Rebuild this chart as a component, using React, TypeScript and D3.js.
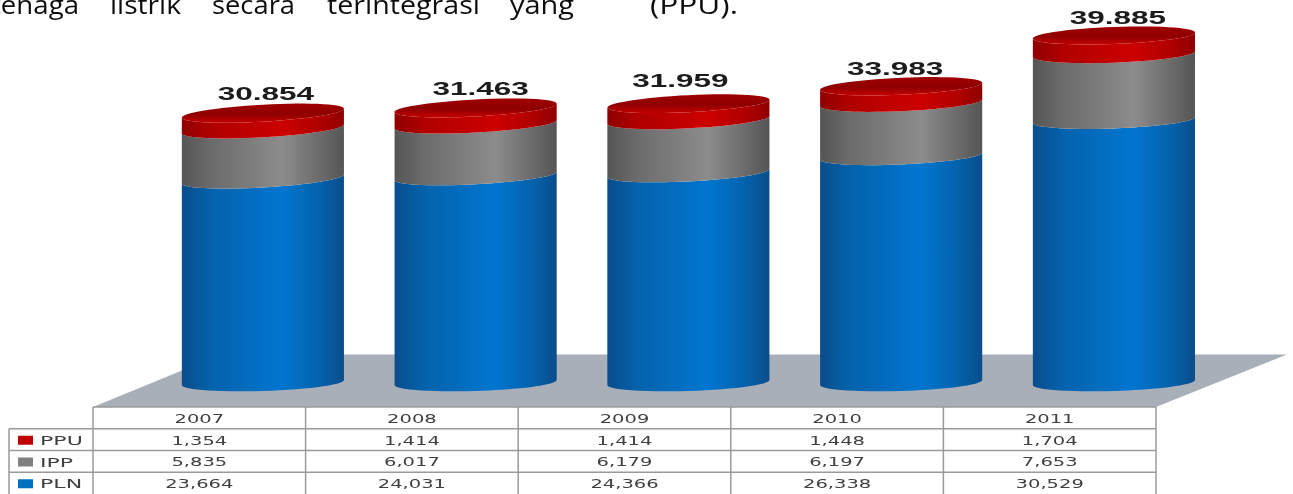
import { useEffect, useRef } from 'react';
import * as d3 from 'd3';

// Chart data
const years = ['2007', '2008', '2009', '2010', '2011'];
const ppu = [1354, 1414, 1414, 1448, 1704];
const ipp = [5835, 6017, 6179, 6197, 7653];
const pln = [23664, 24031, 24366, 26338, 30529];
const totals = ['30.854', '31.463', '31.959', '33.983', '39.885'];
const tableRows = ['PPU', 'IPP', 'PLN'];
const headingWords = ['tenaga', 'listrik', 'secara', 'terintegrasi', 'yang', '(PPU).'];

// Hand placed layout of the source picture
const headingSpans: [number, number][] = [[-9, 79], [110, 181], [212, 295], [327, 480], [510, 574], [650, 738]];
const labelNudge: [number, number][] = [[3, 6], [5, 6], [-8, 2], [-6, 8], [4, 8]];
const topTilt = [9, 8.5, 8, 7, 6];

const width = 1293;
const height = 494;
const ry = 8.5;
const bottomTilt = 5;
const capExtra = 4;

const fmt = d3.format(',');

export default function App() {
  const svgRef = useRef<SVGSVGElement>(null);

  useEffect(() => {
    if (!svgRef.current) return;
    const svg = d3.select(svgRef.current);
    svg.selectAll('*').remove();
    svg.attr('width', width).attr('height', height);

    // Scales
    const x = d3.scaleBand<string>().domain(years).range([156.5, 1220.3]).paddingInner(0.238).paddingOuter(0.119);
    const y = d3.scaleLinear().domain([0, 40000]).range([382.5, 38.5]);
    const tableX = d3.scaleBand<string>().domain(years).range([93, 1156]);
    const tableY = d3.scaleBand<string>().domain(['year', ...tableRows]).range([407, 494]);

    // Gradients
    const defs = svg.append('defs');
    const hGrad = (id: string, dark: string, mid: string, light: string) => {
      const g = defs.append('linearGradient').attr('id', id);
      [[0, dark], [0.18, mid], [0.62, light], [0.85, mid], [1, dark]].forEach(([o, c]) => {
        g.append('stop').attr('offset', o as number).attr('stop-color', c as string);
      });
    };
    hGrad('blue', '#0a4d8c', '#0462ab', '#0176d0');
    hGrad('gray', '#555555', '#6b6b6b', '#8c8c8c');
    hGrad('red', '#8f0000', '#b00000', '#cc0000');
    const capGrad = defs.append('linearGradient').attr('id', 'cap').attr('x2', 0).attr('y2', 1);
    capGrad.append('stop').attr('offset', 0).attr('stop-color', '#a00000');
    capGrad.append('stop').attr('offset', 0.55).attr('stop-color', '#8f0000');
    capGrad.append('stop').attr('offset', 1).attr('stop-color', '#c40000');
    const soft = defs.append('filter').attr('id', 'soft');
    soft.append('feGaussianBlur').attr('stdDeviation', 0.4);

    // Heading words, cut by the top edge
    headingWords.forEach((w, i) => {
      const [x0, x1] = headingSpans[i];
      svg.append('text')
        .attr('x', x0)
        .attr('y', 14)
        .attr('font-family', '"Open Sans", sans-serif')
        .attr('font-size', 25)
        .attr('fill', '#111')
        .attr('filter', 'url(#soft)')
        .attr('textLength', x1 - x0)
        .attr('lengthAdjust', 'spacingAndGlyphs')
        .text(w);
    });

    // Floor
    svg.append('path')
      .attr('d', d3.line()([[93, 407], [221, 354.5], [1287, 354.5], [1156, 407]]) + 'Z')
      .attr('fill', '#a8afb9');

    // Cylinders
    const rx = x.bandwidth() / 2;
    const angles = d3.range(0, 181, 6).map((a) => (a * Math.PI) / 180);
    const line = d3.line();
    const pt = (cx: number, cy: number, tilt: number, t: number): [number, number] => [
      cx + rx * Math.cos(t),
      cy + ry * Math.sin(t) - (tilt * Math.cos(t)) / 2,
    ];
    const cyl = svg.append('g');
    years.forEach((yr, i) => {
      const cx = (x(yr) as number) + rx;
      const tilt = topTilt[i];
      const y1 = y(pln[i]);
      const y2 = y(pln[i] + ipp[i]);
      const y3 = y(pln[i] + ipp[i] + ppu[i]) - capExtra;
      // front half of the lower rim, then the same half of the upper rim
      const seg = (ya: number, ta: number, yb: number, tb: number, fill: string) =>
        cyl.append('path')
          .attr('d', line([
            ...angles.map((t) => pt(cx, ya, ta, t)),
            ...angles.slice().reverse().map((t) => pt(cx, yb, tb, t)),
          ]) + 'Z')
          .attr('fill', fill);
      seg(y(0), bottomTilt, y1, tilt, 'url(#blue)');
      seg(y1, tilt, y2, tilt, 'url(#gray)');
      seg(y2, tilt, y3, tilt, 'url(#red)');
      // top face
      cyl.append('path')
        .attr('d', line([
          ...angles.map((t) => pt(cx, y3, tilt, t)),
          ...angles.map((t) => pt(cx, y3, tilt, t + Math.PI)),
        ]) + 'Z')
        .attr('fill', 'url(#cap)');
      svg.append('text')
        .attr('transform', `translate(${cx + labelNudge[i][0]},${y3 - 19 + labelNudge[i][1]}) scale(1.75,1)`)
        .attr('text-anchor', 'middle')
        .attr('font-family', '"Liberation Sans", Arial, sans-serif')
        .attr('font-weight', 700)
        .attr('font-size', 18)
        .attr('fill', '#1a1a1a')
        .attr('filter', 'url(#soft)')
        .text(totals[i]);
    });

    // Data table
    const table = svg.append('g');
    const grid = '#9a9a9a';
    const rule = (x1: number, y1: number, x2: number, y2: number) =>
      table.append('line')
        .attr('x1', x1).attr('y1', y1).attr('x2', x2).attr('y2', y2)
        .attr('stroke', grid).attr('stroke-width', 1.5);
    rule(93, tableY('year') as number, 1156, tableY('year') as number);
    tableRows.forEach((r) => rule(9, tableY(r) as number, 1156, tableY(r) as number));
    rule(9, tableY('PPU') as number, 9, height);
    [...years.map((yr) => tableX(yr) as number), 1156].forEach((vx) => rule(vx, 407, vx, height));

    const cell = (txt: string, cx: number, row: string) =>
      table.append('text')
        .attr('transform', `translate(${cx},${(tableY(row) as number) + tableY.bandwidth() / 2 + 5}) scale(1.5,1)`)
        .attr('text-anchor', 'middle')
        .attr('font-family', '"DejaVu Sans", sans-serif')
        .attr('font-size', 13)
        .attr('fill', '#404040')
        .attr('filter', 'url(#soft)')
        .text(txt);
    const rowValues = [ppu, ipp, pln];
    years.forEach((yr, i) => {
      const cx = (tableX(yr) as number) + tableX.bandwidth() / 2;
      cell(yr, cx, 'year');
      tableRows.forEach((r, j) => cell(fmt(rowValues[j][i]), cx, r));
    });

    // Legend keys
    const keyColors = ['#c00000', '#808080', '#0070c0'];
    tableRows.forEach((r, j) => {
      const ry0 = tableY(r) as number;
      table.append('rect')
        .attr('x', 18).attr('y', ry0 + 7).attr('width', 15).attr('height', 9)
        .attr('fill', keyColors[j]);
      table.append('text')
        .attr('transform', `translate(40,${ry0 + 16}) scale(1.7,1)`)
        .attr('font-family', '"DejaVu Sans", sans-serif')
        .attr('font-size', 13)
        .attr('fill', '#404040')
        .attr('filter', 'url(#soft)')
        .text(r);
    });
  }, []);

  return <svg ref={svgRef} style={{ position: 'fixed', left: 0, top: 0, display: 'block', background: '#fff' }} />;
}
